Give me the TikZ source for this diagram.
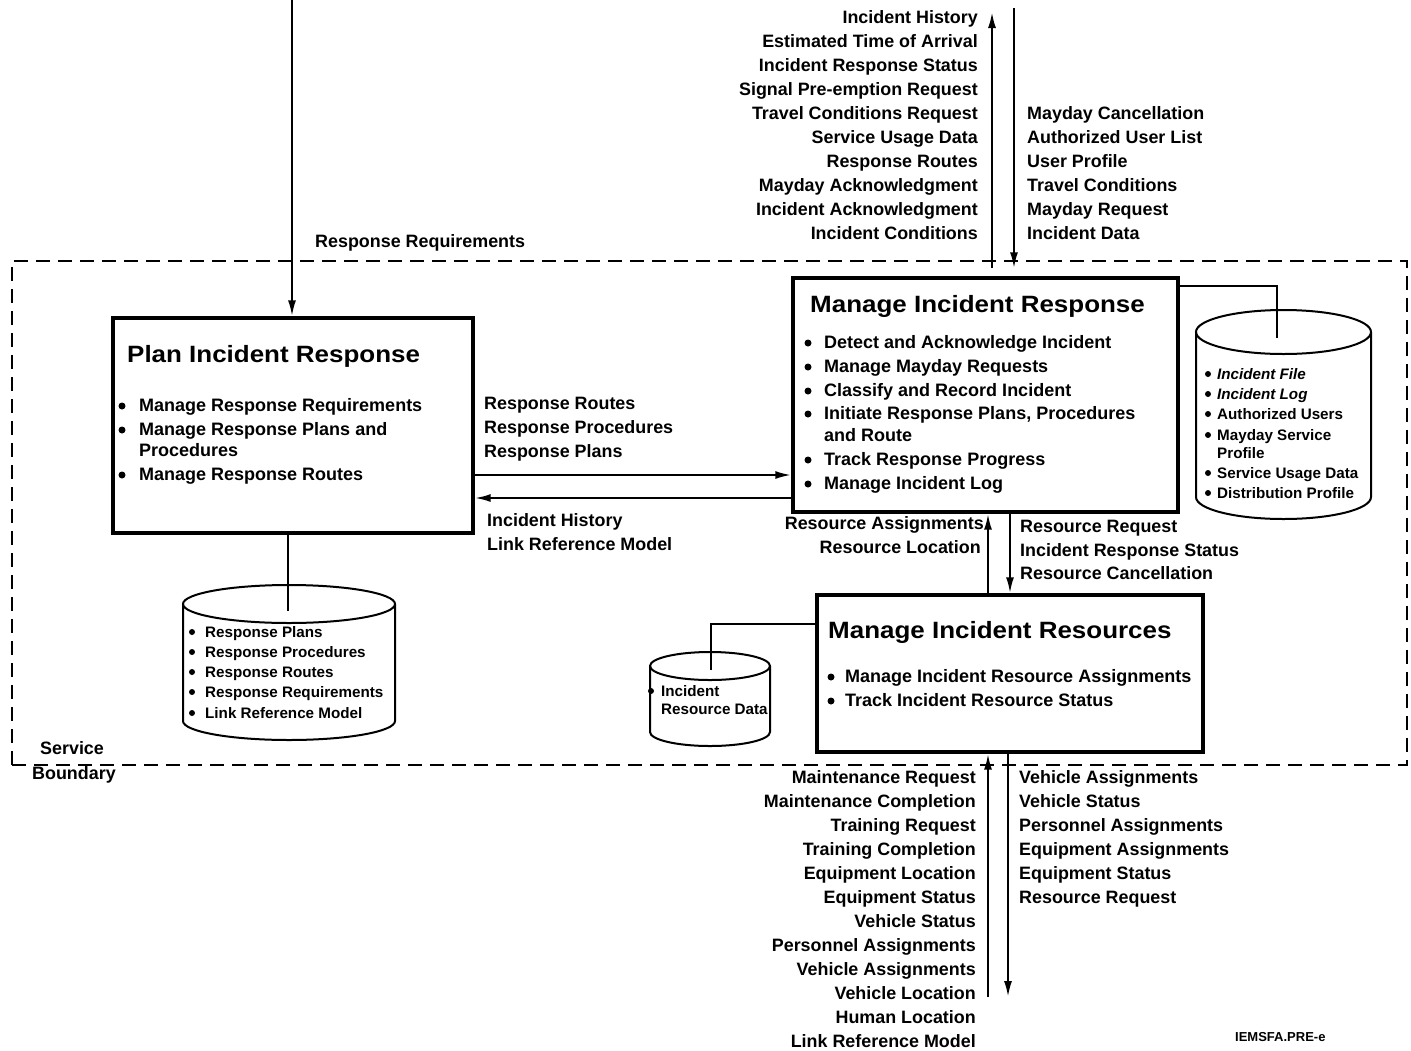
\documentclass[tikz,border=0pt]{standalone}
\usepackage{fontspec}
\setmainfont{Liberation Sans}
\newfontfamily\titlefont{Liberation Sans}[FakeStretch=1.1]
\usetikzlibrary{arrows.meta}
% bullet dot to the left of a named item node: node, x offset, radius
\newcommand\bulat[3]{\fill ([xshift=#2,yshift=5pt]#1.base west) circle[radius=#3];}
\newcommand\dbdraw[5]{%
  \pgfmathsetmacro\dbrx{(#2-#1)/2}\pgfmathsetmacro\dbcx{(#1+#2)/2}%
  \draw[db, fill=white] (#1,#3) -- (#1,#4) arc[start angle=180, end angle=360, x radius=\dbrx*1pt, y radius=#5*1pt] -- (#2,#3);
  \draw[db] (\dbcx,#3) ellipse[x radius=\dbrx*1pt, y radius=#5*1pt];}
\tikzset{
  lbl/.style={font=\bfseries\fontsize{17.9}{20}\selectfont, inner sep=0pt},
  lblR/.style={lbl, anchor=base east},
  lblL/.style={lbl, anchor=base west},
  item/.style={font=\bfseries\fontsize{18}{20}\selectfont, inner sep=0pt, anchor=base west},
  dbitem/.style={font=\bfseries\fontsize{15.2}{18}\selectfont, inner sep=0pt, anchor=base west},
  ttl/.style={font=\titlefont\bfseries\fontsize{23.6}{26}\selectfont, inner sep=0pt, anchor=base west},
  procbox/.style={draw, line width=3.4pt, inner sep=0pt},
  flow/.style={line width=2.2pt, -{Latex[length=16pt,width=8pt]}},
  link/.style={line width=2pt},
  db/.style={line width=2pt},
  boundary/.style={draw, line width=2pt, dash pattern=on 14pt off 8pt, inner sep=0pt},
}
\begin{document}
\begin{tikzpicture}[x=1pt, y=-1pt]
\useasboundingbox (0,0) rectangle (1411,1050);
\fill[white] (0,0) rectangle (1411,1050);

% service boundary
\node[boundary, minimum width=1395pt, minimum height=504pt] (sb) at (709.5,513) {};
\node[lblL] (sbA) at (40,754) {Service};
\node[lblL] (sbB) at (32,779) {Boundary};

% process boxes
\node[procbox, minimum width=360pt, minimum height=215pt] (plan) at (293,425.5) {};
\node[procbox, minimum width=385pt, minimum height=234pt] (mir) at (985.5,395) {};
\node[procbox, minimum width=386pt, minimum height=157pt] (mires) at (1010,673.5) {};

% Plan Incident Response content
\node[ttl] (planT) at (127,362) {Plan Incident Response};
\node[item] (planA) at (139,411) {Manage Response Requirements};
\node[item] (planB) at (139,435) {Manage Response Plans and};
\node[item] (planB2) at (139,456) {Procedures};
\node[item] (planC) at (139,480) {Manage Response Routes};
\foreach \n in {planA,planB,planC} {\bulat{\n}{-17pt}{3.5pt}}

% Manage Incident Response content
\node[ttl] (mirT) at (810,312) {Manage Incident Response};
\node[item] (mirA) at (824,348) {Detect and Acknowledge Incident};
\node[item] (mirB) at (824,372) {Manage Mayday Requests};
\node[item] (mirC) at (824,396) {Classify and Record Incident};
\node[item] (mirD) at (824,419) {Initiate Response Plans, Procedures};
\node[item] (mirD2) at (824,441) {and Route};
\node[item] (mirE) at (824,465) {Track Response Progress};
\node[item] (mirF) at (824,489) {Manage Incident Log};
\foreach \n in {mirA,mirB,mirC,mirD,mirE,mirF} {\bulat{\n}{-16pt}{3.5pt}}

% Manage Incident Resources content
\node[ttl] (miresT) at (828,638) {Manage Incident Resources};
\node[item] (miresA) at (845,682) {Manage Incident Resource Assignments};
\node[item] (miresB) at (845,706) {Track Incident Resource Status};
\foreach \n in {miresA,miresB} {\bulat{\n}{-14pt}{3.5pt}}

% data stores
\dbdraw{183}{395}{604}{721}{19}
\dbdraw{1196}{1371}{332}{497}{22}
\dbdraw{650}{770}{666}{732}{14}

\node[dbitem] (d1a) at (205,637) {Response Plans};
\node[dbitem] (d1b) at (205,657) {Response Procedures};
\node[dbitem] (d1c) at (205,677) {Response Routes};
\node[dbitem] (d1d) at (205,697) {Response Requirements};
\node[dbitem] (d1e) at (205,718) {Link Reference Model};
\foreach \n in {d1a,d1b,d1c,d1d,d1e} {\bulat{\n}{-13pt}{3pt}}

\node[dbitem] (d2a) at (1217,379) {\itshape Incident File};
\node[dbitem] (d2b) at (1217,399) {\itshape Incident Log};
\node[dbitem] (d2c) at (1217,419) {Authorized Users};
\node[dbitem] (d2d) at (1217,440) {Mayday Service};
\node[dbitem] (d2d2) at (1217,458) {Profile};
\node[dbitem] (d2e) at (1217,478) {Service Usage Data};
\node[dbitem] (d2f) at (1217,498) {Distribution Profile};
\foreach \n in {d2a,d2b,d2c,d2d,d2e,d2f} {\bulat{\n}{-9pt}{3pt}}

\node[dbitem] (d3a) at (661,696) {Incident};
\node[dbitem] (d3b) at (661,714) {Resource Data};
\bulat{d3a}{-10pt}{3pt}

% links to data stores
\coordinate (c1end) at (288,611);
\draw[link] (plan.south -| c1end) -- (c1end);
\coordinate (c2corner) at (1277,286);
\coordinate (c2end) at (1277,338);
\draw[link] (mir.east |- c2corner) -- (c2corner) -- (c2end);
\coordinate (c3corner) at (711,624);
\coordinate (c3end) at (711,670);
\draw[link] (mires.west |- c3corner) -- (c3corner) -- (c3end);

% flows
\coordinate (rrIn) at (292,0);
\draw[flow] (rrIn) -- (rrIn |- plan.north);
\node[lblL] (rrL) at (315,247) {Response Requirements};

\coordinate (yA) at (0,475);
\coordinate (yB) at (0,498);
\draw[flow] (plan.east |- yA) -- (mir.west |- yA);
\draw[flow] (mir.west |- yB) -- (plan.east |- yB);
\node[lblL] (h1) at (484,409) {Response Routes};
\node[lblL] (h2) at (484,433) {Response Procedures};
\node[lblL] (h3) at (484,457) {Response Plans};
\node[lblL] (h4) at (487,526) {Incident History};
\node[lblL] (h5) at (487,550) {Link Reference Model};

\coordinate (outTop) at (992,12);
\coordinate (inTop) at (1014,8);
\draw[flow, shorten <=8pt] (outTop |- mir.north) -- (outTop);
\draw[flow, shorten >=8pt] (inTop) -- (inTop |- mir.north);
\foreach \t [count=\i from 0] in {Incident History, Estimated Time of Arrival, Incident Response Status, Signal Pre-emption Request, Travel Conditions Request, Service Usage Data, Response Routes, Mayday Acknowledgment, Incident Acknowledgment, Incident Conditions}
  \node[lblR] (tl\i) at (978,{23.3+24*\i}) {\t};
\foreach \t [count=\i from 0] in {Mayday Cancellation, Authorized User List, User Profile, Travel Conditions, Mayday Request, Incident Data}
  \node[lblL] (tr\i) at (1027,{119.3+24*\i}) {\t};

\coordinate (xU) at (988,0);
\coordinate (xD) at (1010,0);
\draw[flow] (xU |- mires.north) -- (xU |- mir.south);
\draw[flow] (xD |- mir.south) -- (xD |- mires.north);
\node[lblR] (m1) at (984,529) {Resource Assignments};
\node[lblR] (m2) at (981,553) {Resource Location};
\node[lblL] (m3) at (1020,532) {Resource Request};
\node[lblL] (m4) at (1020,556) {Incident Response Status};
\node[lblL] (m5) at (1020,579) {Resource Cancellation};

\coordinate (botOut) at (988,997);
\coordinate (botIn) at (1008,997);
\draw[flow] (botOut) -- (botOut |- mires.south);
\draw[flow] (botIn |- mires.south) -- (botIn);
\foreach \t [count=\i from 0] in {Maintenance Request, Maintenance Completion, Training Request, Training Completion, Equipment Location, Equipment Status, Vehicle Status, Personnel Assignments, Vehicle Assignments, Vehicle Location, Human Location, Link Reference Model}
  \node[lblR] (bl\i) at (976,{783.3+24*\i}) {\t};
\foreach \t [count=\i from 0] in {Vehicle Assignments, Vehicle Status, Personnel Assignments, Equipment Assignments, Equipment Status, Resource Request}
  \node[lblL] (br\i) at (1019,{783.3+24*\i}) {\t};

\node[anchor=base west, inner sep=0pt, font=\bfseries\fontsize{13}{15}\selectfont] (foot) at (1235,1041) {IEMSFA.PRE-e};
\end{tikzpicture}
\end{document}
